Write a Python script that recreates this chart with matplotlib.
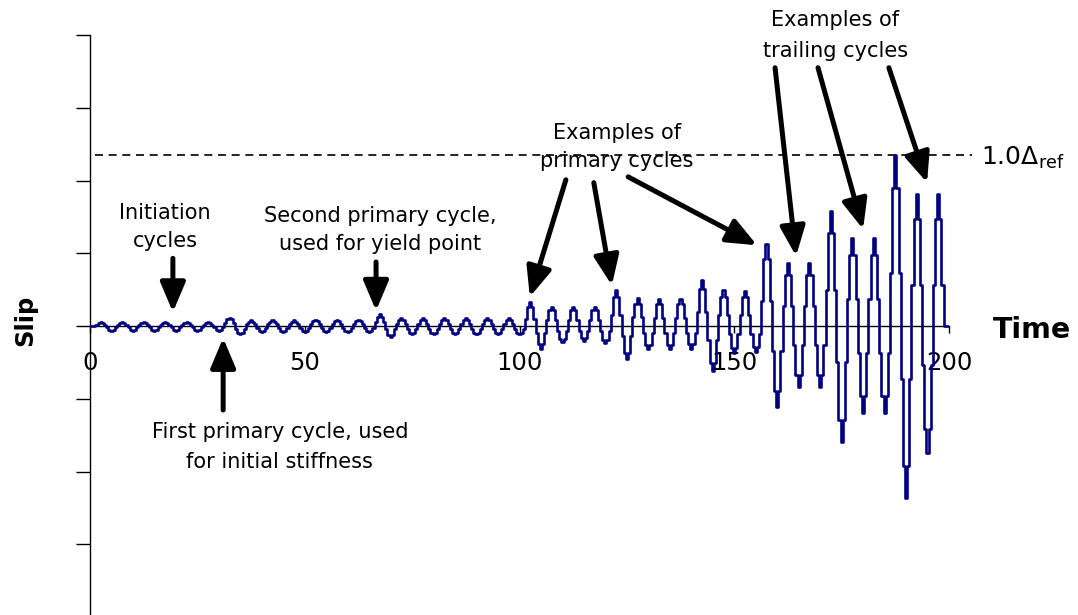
import matplotlib
matplotlib.use("Agg")
import matplotlib.pyplot as plt

# ---------------- data ----------------
N_CYCLES = 40
CYCLE_LENGTH = 5.0          # time units per cycle
SAMPLE_STEP = 0.5           # time between samples inside a cycle

# positive excursion (peak) of each cycle
PEAKS = [0.059, 0.059, 0.059, 0.059, 0.059, 0.059,
         0.114,
         0.076, 0.076, 0.076, 0.080, 0.080, 0.080,
         0.160,
         0.106, 0.106, 0.106, 0.106, 0.106, 0.106,
         0.330, 0.265, 0.265, 0.265,
         0.495, 0.380, 0.375, 0.375,
         0.630, 0.495, 0.485,
         1.130, 0.870, 0.870,
         1.585, 1.205, 1.205,
         2.350, 1.820, 1.820]

# magnitude of the negative excursion (trough) ending each cycle
TROUGHS = [0.065, 0.065, 0.065, 0.065, 0.065, 0.065,
           0.114,
           0.078, 0.078, 0.080, 0.085, 0.085, 0.088,
           0.155,
           0.112, 0.114, 0.114, 0.114, 0.114, 0.114,
           0.310, 0.220, 0.210, 0.230,
           0.460, 0.320, 0.320, 0.310,
           0.620, 0.365, 0.355,
           1.110, 0.840, 0.840,
           1.590, 1.190, 1.190,
           2.370, 1.750, 0.000]

# relative levels of the stair-stepped record inside one cycle
# (first three refer to the previous trough, next five to the peak,
#  last two to this cycle's trough)
LEVELS = [-1.00, -0.81, -0.31, 0.31, 0.81, 1.00, 0.81, 0.31, -0.31, -0.81]
LEVEL_SOURCE = ["prev", "prev", "prev", "peak", "peak", "peak", "peak", "peak", "trough", "trough"]

X_TICKS = [0, 50, 100, 150, 200]
REF_LEVEL = 2.35
REF_LABEL = r"1.0$\Delta_{\mathrm{ref}}$"

# ---------------- build stair series ----------------
t_vals, s_vals = [], []
prev = 0.0
for k in range(N_CYCLES):
    for j, (lvl, src) in enumerate(zip(LEVELS, LEVEL_SOURCE)):
        amp = prev if src == "prev" else (PEAKS[k] if src == "peak" else TROUGHS[k])
        t_vals.append(k * CYCLE_LENGTH + j * SAMPLE_STEP)
        s_vals.append(lvl * amp)
    prev = TROUGHS[k]
t_vals.append(N_CYCLES * CYCLE_LENGTH)
s_vals.append(-prev)

# ---------------- figure ----------------
plt.rcParams["font.family"] = ["DejaVu Sans"]
W, H = 1078, 615
fig = plt.figure(figsize=(W / 100, H / 100), dpi=100)
ax = fig.add_axes([90 / W, (H - 617) / H, 859 / W, 582 / H])
ax.set_xlim(0, 200)
ax.set_ylim(-4, 4)

ax.step(t_vals, s_vals, where="mid", color="#000080", lw=1.9, zorder=3)

# reference dashed line
ax.plot([1.2, 205.3], [REF_LEVEL, REF_LEVEL], ls=(0, (4.8, 3.4)), color="black",
        lw=1.2, clip_on=False, zorder=2)
ax.text(207.5, REF_LEVEL - 0.137, REF_LABEL, fontsize=18, ha="left", va="baseline")

# spines / ticks
for sp in ("top", "right"):
    ax.spines[sp].set_visible(False)
ax.spines["bottom"].set_position(("data", 0))
ax.spines["left"].set_linewidth(1.0)
ax.spines["bottom"].set_linewidth(1.0)
ax.set_xticks(X_TICKS)
ax.set_xticklabels([str(v) for v in X_TICKS])
ax.set_yticks(range(-4, 5))
ax.tick_params(axis="y", length=10, width=1.0, labelleft=False, direction="out")
ax.tick_params(axis="x", length=5, width=1.0, labelsize=17.5, pad=13, direction="out")

# axis titles
ax.text(210.2, -0.169, "Time", fontsize=20.5, fontweight="bold", ha="left", va="baseline")
fig.text(25 / W, 1 - 320 / H, "Slip", fontsize=17.5, fontweight="bold",
         rotation=90, ha="center", va="center")

# annotations
arrow_kw = dict(arrowstyle="-|>,head_length=0.9,head_width=0.38", mutation_scale=20,
                lw=3.6, color="black", shrinkA=0, shrinkB=0)
fs = 15

def arrow(tail, tip):
    ax.annotate("", xy=tip, xytext=tail, arrowprops=arrow_kw, annotation_clip=False)

ax.text(17.5, 1.36, "Initiation\ncycles", fontsize=fs, ha="center", va="center", linespacing=1.55)
arrow((19.3, 0.93), (19.3, 0.19))

ax.text(67.5, 1.32, "Second primary cycle,\nused for yield point", fontsize=fs,
        ha="center", va="center", linespacing=1.55)
arrow((66.6, 0.88), (66.6, 0.21))

ax.text(44.2, -1.66, "First primary cycle, used\nfor initial stiffness", fontsize=fs,
        ha="center", va="center", linespacing=1.6)
arrow((31.0, -1.155), (31.0, -0.165))

ax.text(122.7, 2.46, "Examples of\nprimary cycles", fontsize=fs, ha="center", va="center",
        linespacing=1.55)
arrow((110.8, 2.01), (102.4, 0.40))
arrow((117.3, 1.97), (121.5, 0.56))
arrow((125.3, 2.05), (155.3, 1.11))

ax.text(173.5, 3.99, "Examples of\ntrailing cycles", fontsize=fs, ha="center", va="center",
        linespacing=1.7, clip_on=False)
arrow((159.5, 3.55), (164.4, 0.96))
arrow((169.5, 3.55), (180.0, 1.33))
arrow((186.0, 3.55), (194.9, 1.97))

fig.savefig("out.png", dpi=100)
